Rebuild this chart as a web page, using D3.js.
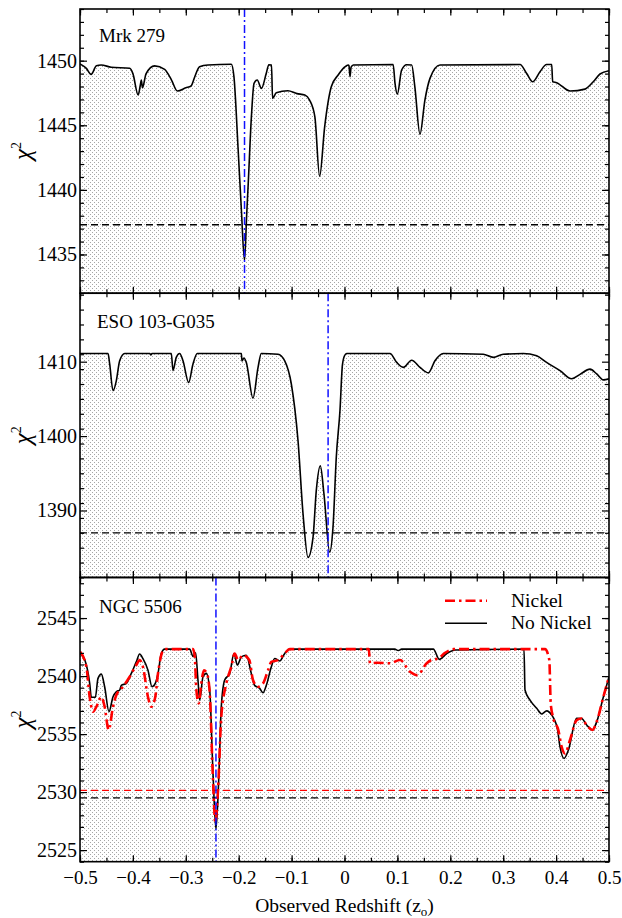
<!DOCTYPE html>
<html><head><meta charset="utf-8">
<script src="https://cdn.jsdelivr.net/npm/d3@7"></script>
<style>body{margin:0;background:#fff}svg{display:block}text{font-family:"Liberation Serif","Times New Roman",serif;fill:#000}</style>
</head><body>
<script>
// ---------- DATA ----------
const xTicks = [-0.5,-0.4,-0.3,-0.2,-0.1,0,0.1,0.2,0.3,0.4,0.5];
const panelNames = ["Mrk 279","ESO 103-G035","NGC 5506"];
const yTicksMrk = [1435,1440,1445,1450];
const yTicksEso = [1390,1400,1410];
const yTicksNgc = [2525,2530,2535,2540,2545];
const legendLabels = ["Nickel","No Nickel"];

const mrkZ = [-0.5,-0.488,-0.479,-0.469,-0.46,-0.441,-0.406,-0.4,-0.39,-0.386,-0.384,-0.382,-0.375,-0.359,-0.34,-0.327,-0.316,-0.3,-0.29,-0.283,-0.274,-0.258,-0.214,-0.209,-0.201,-0.195,-0.189,-0.185,-0.182,-0.176,-0.171,-0.165,-0.157,-0.148,-0.143,-0.138,-0.136,-0.129,-0.107,-0.09,-0.075,-0.066,-0.056,-0.047,-0.0375,-0.025,-0.012,0.0,0.007,0.0085,0.0104,0.0125,0.0167,0.092,0.0955,0.0999,0.108,0.1175,0.127,0.133,0.1427,0.152,0.1616,0.1805,0.3318,0.3444,0.3557,0.3696,0.382,0.3917,0.3935,0.401,0.4263,0.4546,0.4703,0.483,0.5];
const mrkChi = [1449.75,1449.4,1448.94,1449.6,1449.67,1449.49,1449.41,1449.0,1447.34,1448.1,1448.5,1447.9,1449.0,1449.6,1449.33,1448.5,1447.65,1447.9,1448.04,1448.76,1449.53,1449.67,1449.72,1448.76,1443.07,1438.5,1434.53,1438.0,1440.48,1445.65,1448.25,1448.5,1447.86,1449.0,1449.69,1449.67,1447.08,1447.52,1447.67,1447.45,1447.34,1446.95,1445.65,1441.05,1444.88,1447.98,1448.89,1449.5,1449.67,1449.6,1448.76,1449.5,1449.67,1449.7,1448.25,1447.41,1449.28,1449.69,1449.67,1447.98,1444.31,1446.95,1448.63,1449.67,1449.7,1449.0,1448.37,1449.15,1449.7,1449.7,1448.37,1448.3,1447.65,1447.8,1448.37,1448.97,1449.22];

const esoZ = [-0.5,-0.447,-0.4439,-0.4376,-0.4313,-0.425,-0.4155,-0.368,-0.366,-0.364,-0.3274,-0.3242,-0.318,-0.3116,-0.3053,-0.2946,-0.2864,-0.2782,-0.195,-0.1938,-0.19,-0.1856,-0.173,-0.1635,-0.1573,-0.1257,-0.113,-0.1005,-0.0879,-0.0784,-0.069,-0.0595,-0.0533,-0.0457,-0.0388,-0.028,-0.0217,-0.0155,-0.0085,-0.004,0.0,0.004,0.086,0.0987,0.1112,0.127,0.1427,0.1585,0.171,0.1868,0.2624,0.2813,0.3,0.338,0.3633,0.382,0.4074,0.4295,0.4452,0.4641,0.4768,0.4893,0.5];
const esoChi = [1411.1,1411.1,1409.7,1406.1,1407.45,1410.13,1411.1,1411.1,1410.9,1411.1,1411.1,1408.8,1410.58,1411.1,1410.13,1407.2,1409.7,1411.1,1411.1,1410.1,1410.5,1409.9,1405.1,1409.2,1411.1,1411.0,1410.1,1407.0,1399.4,1389.56,1383.7,1386.4,1392.7,1396.0,1392.2,1384.4,1387.8,1397.2,1403.5,1409.5,1410.8,1411.1,1411.1,1409.9,1409.24,1410.2,1409.24,1408.5,1410.13,1411.1,1411.0,1410.58,1411.0,1411.1,1410.8,1409.9,1408.8,1407.7,1408.3,1409.0,1408.35,1407.55,1407.7];

const ngcNoNiZ = [-0.5,-0.491,-0.4817,-0.4786,-0.471,-0.466,-0.4597,-0.4534,-0.4452,-0.4376,-0.4313,-0.425,-0.4219,-0.4124,-0.403,-0.3936,-0.3872,-0.381,-0.3715,-0.3639,-0.3577,-0.3526,-0.3463,-0.34,-0.2927,-0.2864,-0.2815,-0.277,-0.2737,-0.2675,-0.2612,-0.2548,-0.2486,-0.243,-0.2378,-0.2329,-0.2265,-0.217,-0.2089,-0.2026,-0.195,-0.1856,-0.1762,-0.17,-0.1604,-0.154,-0.1478,-0.1383,-0.132,-0.1225,-0.113,-0.1036,0.095,0.1017,0.108,0.1679,0.1793,0.1932,0.21,0.3393,0.3412,0.3507,0.3633,0.3728,0.3822,0.3917,0.4023,0.4074,0.415,0.4231,0.4389,0.448,0.4578,0.4685,0.4768,0.4893,0.5];
const ngcNoNiChi = [2541.95,2541.4,2539.37,2538.17,2538.17,2539.8,2540.17,2539.08,2536.93,2538.22,2538.65,2538.8,2539.2,2539.37,2540.23,2541.23,2541.9,2541.5,2540.5,2539.08,2539.37,2540.2,2541.95,2542.32,2542.32,2541.7,2542.0,2539.66,2537.93,2539.94,2540.23,2538.8,2531.63,2526.8,2531.05,2537.36,2539.66,2540.23,2541.95,2540.95,2541.66,2541.8,2540.23,2539.2,2538.94,2538.56,2539.2,2540.8,2541.52,2541.3,2541.95,2542.32,2542.32,2542.2,2542.32,2542.32,2541.44,2541.95,2542.25,2542.32,2538.8,2537.93,2537.22,2536.73,2537.0,2536.64,2535.5,2533.9,2532.9,2533.6,2536.36,2536.34,2535.78,2535.35,2536.07,2538.2,2539.94];

const ngcNiZ = [-0.5,-0.488,-0.4817,-0.4754,-0.469,-0.4597,-0.4534,-0.4458,-0.4376,-0.4313,-0.4187,-0.4061,-0.3936,-0.3872,-0.381,-0.3715,-0.3652,-0.3577,-0.3526,-0.343,-0.338,-0.2864,-0.283,-0.28,-0.2756,-0.2707,-0.2656,-0.26,-0.2548,-0.2486,-0.2442,-0.2391,-0.2329,-0.2234,-0.214,-0.2076,-0.2013,-0.1918,-0.18,-0.173,-0.1635,-0.154,-0.1446,-0.1383,-0.126,-0.113,-0.1036,0.046,0.0482,0.0614,0.086,0.1049,0.1238,0.1376,0.1554,0.1647,0.1774,0.19,0.2057,0.379,0.3872,0.3898,0.3948,0.4042,0.4105,0.4168,0.4263,0.4389,0.448,0.4578,0.4685,0.4768,0.4893,0.5];
const ngcNiChi = [2542.1,2540.8,2538.2,2536.93,2537.36,2538.2,2537.36,2535.35,2537.36,2538.36,2539.08,2539.94,2540.95,2541.38,2540.8,2538.2,2537.36,2538.2,2540.2,2542.2,2542.32,2542.32,2541.66,2538.8,2537.65,2539.37,2540.5,2540.23,2538.56,2531.05,2527.4,2530.19,2536.5,2539.37,2540.8,2541.95,2541.38,2541.8,2541.38,2539.66,2539.08,2539.37,2540.5,2541.23,2541.38,2541.95,2542.32,2542.32,2541.1,2541.15,2541.1,2541.38,2540.37,2540.08,2541.1,2541.4,2541.52,2542.0,2542.32,2542.32,2541.38,2537.65,2536.36,2535.35,2533.9,2533.33,2534.5,2536.2,2536.34,2535.78,2535.35,2536.07,2538.2,2539.94];

const markerZ = [-0.189,-0.031,-0.243];          // blue dash-dot verticals
const thresholdBlack = [1437.3,1387.0,2529.5];   // black dashed horizontals
const thresholdRedNgc = 2530.15;                  // red dashed (Nickel)

// ---------- LAYOUT ----------
const W=622,H=918,L=80,R=609,top0=9,PH=284.23;
const yDomains=[[1432,1454],[1381,1419.2],[2524,2548.5]];
const yMajor=[yTicksMrk,yTicksEso,yTicksNgc];
const yMinorStep=[1,2,1];

const svg=d3.select("body").append("svg").attr("width",W).attr("height",H);
const defs=svg.append("defs");
const pat=defs.append("pattern").attr("id","dots").attr("patternUnits","userSpaceOnUse").attr("width",4).attr("height",4);
pat.append("rect").attr("x",0).attr("y",0).attr("width",1).attr("height",1).attr("fill","#a6a6a6");
pat.append("rect").attr("x",2).attr("y",2).attr("width",1).attr("height",1).attr("fill","#a6a6a6");

const x=d3.scaleLinear().domain([-0.5,0.5]).range([L,R]);
const xMinor=d3.range(-0.5,0.5001,0.05).map(v=>+v.toFixed(2));
const fmtX=d=>d===0?"0":d3.format(".1f")(d);

const series=[
  [{z:mrkZ,c:mrkChi}],
  [{z:esoZ,c:esoChi}],
  [{z:ngcNoNiZ,c:ngcNoNiChi},{z:ngcNiZ,c:ngcNiChi}]
];

series.forEach((ser,i)=>{
  const y0=top0+i*PH, y1=y0+PH;
  const y=d3.scaleLinear().domain(yDomains[i]).range([y1,y0]);
  const g=svg.append("g");
  const clipId="clip"+i;
  defs.append("clipPath").attr("id",clipId).append("rect").attr("x",L).attr("y",y0).attr("width",R-L).attr("height",PH);
  const pts=ser[0].z.map((z,k)=>[z,ser[0].c[k]]);
  const area=d3.area().x(d=>x(d[0])).y0(y1).y1(d=>y(d[1])).curve(d3.curveMonotoneX);
  const line=d3.line().x(d=>x(d[0])).y(d=>y(d[1])).curve(d3.curveMonotoneX);
  const pg=g.append("g").attr("clip-path",`url(#${clipId})`);
  pg.append("path").attr("d",area(pts)).attr("fill","url(#dots)");
  if(i===2){
    pg.append("line").attr("x1",L).attr("x2",R).attr("y1",y(thresholdRedNgc)).attr("y2",y(thresholdRedNgc))
      .attr("stroke","#ff0000").attr("stroke-width",1.3).attr("stroke-dasharray","7,4");
  }
  pg.append("line").attr("x1",L).attr("x2",R).attr("y1",y(thresholdBlack[i])).attr("y2",y(thresholdBlack[i]))
    .attr("stroke","#000").attr("stroke-width",1.3).attr("stroke-dasharray","7,4");
  pg.append("path").attr("d",line(pts)).attr("fill","none").attr("stroke","#000").attr("stroke-width",1.6);
  if(ser[1]){
    const p2=ser[1].z.map((z,k)=>[z,ser[1].c[k]]);
    pg.append("path").attr("d",line(p2)).attr("fill","none").attr("stroke","#ff0000").attr("stroke-width",2.6)
      .attr("stroke-dasharray","10,4,2.5,4");
  }
  pg.append("line").attr("x1",x(markerZ[i])).attr("x2",x(markerZ[i])).attr("y1",y0).attr("y2",y1)
    .attr("stroke","#1010ff").attr("stroke-width",1.5).attr("stroke-dasharray","8,3,2,3");

  // axes
  const rm=g=>g.select(".domain").remove();
  const yMin=d3.range(Math.ceil(yDomains[i][0]),yDomains[i][1]+0.001,yMinorStep[i]);
  g.append("g").attr("transform",`translate(${L},0)`).call(d3.axisLeft(y).tickValues(yMin).tickSize(-4).tickFormat("")).call(rm);
  g.append("g").attr("transform",`translate(${R},0)`).call(d3.axisRight(y).tickValues(yMin).tickSize(-4).tickFormat("")).call(rm);
  g.append("g").attr("transform",`translate(${L},0)`).call(d3.axisLeft(y).tickValues(yMajor[i]).tickSize(-7).tickPadding(3).tickFormat(d3.format("d"))).call(rm)
    .selectAll("text").style("font-size","20px").style("font-family","Liberation Serif");
  g.append("g").attr("transform",`translate(${R},0)`).call(d3.axisRight(y).tickValues(yMajor[i]).tickSize(-7).tickFormat("")).call(rm);
  g.append("g").attr("transform",`translate(0,${y0})`).call(d3.axisTop(x).tickValues(xMinor).tickSize(-4).tickFormat("")).call(rm);
  g.append("g").attr("transform",`translate(0,${y0})`).call(d3.axisTop(x).tickValues(xTicks).tickSize(-6.5).tickFormat("")).call(rm);
  g.append("g").attr("transform",`translate(0,${y1})`).call(d3.axisBottom(x).tickValues(xMinor).tickSize(-4).tickFormat("")).call(rm);
  const bx=g.append("g").attr("transform",`translate(0,${y1})`).call(d3.axisBottom(x).tickValues(xTicks).tickSize(-6.5).tickPadding(9).tickFormat(i===2?fmtX:"")).call(rm);
  bx.selectAll("text").style("font-size","19px").style("font-family","Liberation Serif");
  g.selectAll(".tick line").attr("stroke","#000").attr("stroke-width",1.2);
  g.append("rect").attr("x",L).attr("y",y0).attr("width",R-L).attr("height",PH).attr("fill","none").attr("stroke","#000").attr("stroke-width",1.6);

  g.append("text").attr("x",i===1?97:99).attr("y",y0+(i===0?33:i===1?35:35.5)).style("font-size","19px").text(panelNames[i]);

  const yl=g.append("text").attr("transform",`translate(31,${y0+PH/2}) rotate(-90)`).attr("text-anchor","middle").style("font-size","25px").style("font-family","Liberation Serif");
  yl.append("tspan").style("font-style","italic").text("χ");
  yl.append("tspan").attr("dy",-10).style("font-size","14px").text("2");
});

// legend
const lg=svg.append("g");
const ly=[600.7,623.3];
lg.append("line").attr("x1",445).attr("x2",487).attr("y1",ly[0]).attr("y2",ly[0]).attr("stroke","#ff0000").attr("stroke-width",2.6).attr("stroke-dasharray","10,4,2.5,4");
lg.append("line").attr("x1",445).attr("x2",487).attr("y1",ly[1]).attr("y2",ly[1]).attr("stroke","#000").attr("stroke-width",1.6);
legendLabels.forEach((t,k)=>lg.append("text").attr("x",511).attr("y",ly[k]+6).style("font-size","19.5px").text(t));

// x-axis title
const xt=svg.append("text").attr("x",(L+R)/2).attr("y",912).attr("text-anchor","middle").style("font-size","19.5px");
xt.append("tspan").text("Observed Redshift (z");
xt.append("tspan").attr("dy",4).style("font-size","13px").text("o");
xt.append("tspan").attr("dy",-4).text(")");
</script>
</body></html>
